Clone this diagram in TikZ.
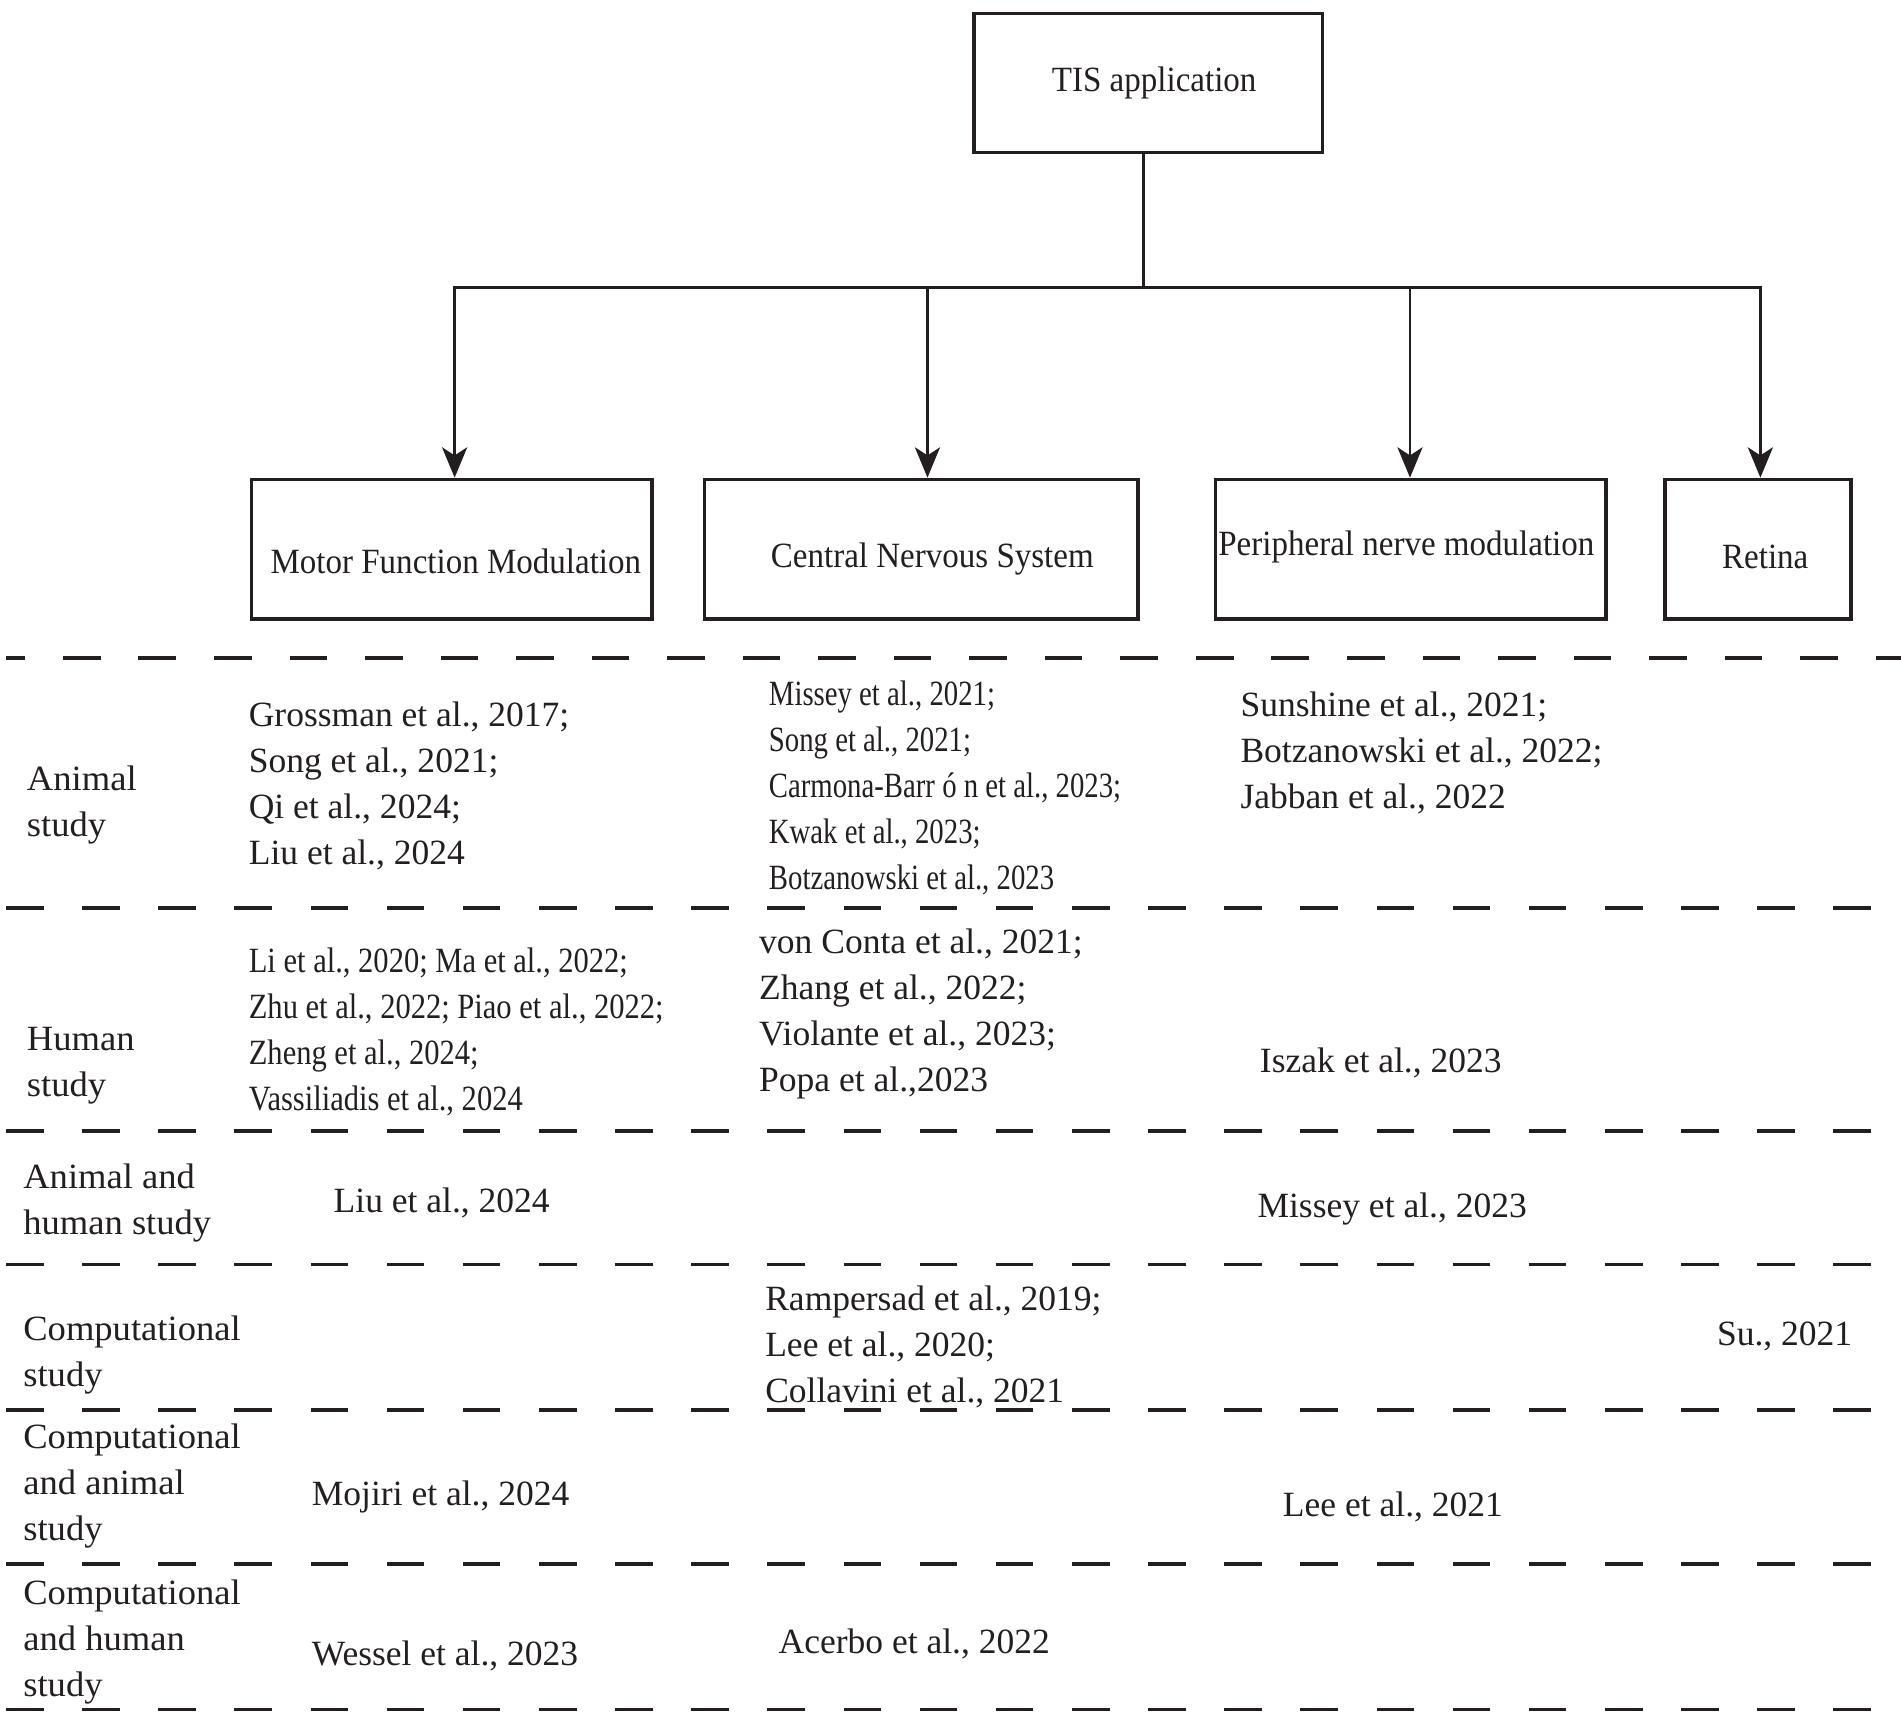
\documentclass[tikz,border=0pt]{standalone}
\usepackage{fontspec}
\setmainfont{Liberation Serif}
\newfontfamily\boxfont{Liberation Serif}[FakeStretch=0.93]
\newfontfamily\condA{Liberation Serif}[FakeStretch=0.81]
\newfontfamily\condB{Liberation Serif}[FakeStretch=0.86]
\newfontfamily\rowfont{Liberation Serif}[FakeStretch=1.03]
\usetikzlibrary{arrows.meta}
\definecolor{ink}{RGB}{35,31,32}
\begin{document}
\begin{tikzpicture}[x=0.03cm, y=-0.03cm,
  box/.style={draw=ink, line width=2.3pt, inner sep=0pt},
  lbl/.style={font=\boxfont\fontsize{25}{32.4}\selectfont, text=ink, inner sep=0pt},
  ref/.style={anchor=west, inner sep=0pt, align=left, text=ink, yshift=-0.06cm, font=\fontsize{25}{32.4}\selectfont},
  refA/.style={ref, font=\condA\fontsize{25}{32.4}\selectfont},
  refB/.style={ref, font=\condB\fontsize{25}{32.4}\selectfont},
  rowlbl/.style={ref, font=\rowfont\fontsize{25}{32.4}\selectfont},
  conn/.style={draw=ink, line width=2pt},
  arr/.style={conn, -{Stealth[length=0.75cm, width=0.62cm, inset=0.2cm]}},
  sepline/.style={draw=ink, line width=2.6pt, dash pattern=on 0.93cm off 0.954cm},
  sepfirst/.style={draw=ink, line width=2.6pt, dash pattern=on 0.93cm off 0.939cm, dash phase=0.462cm}
]
\useasboundingbox (0,0) rectangle (1568,1421);

% boxes
\node[box, minimum width=8.62cm, minimum height=3.43cm,
  label={[lbl, xshift=0.15cm, yshift=-0.01cm]center:TIS application}] (tis) at (947,68.5) {};
\node[box, minimum width=9.91cm, minimum height=3.46cm,
  label={[lbl, xshift=0.105cm, yshift=-0.31cm]center:Motor Function Modulation}] (mfm) at (372.5,453) {};
\node[box, minimum width=10.72cm, minimum height=3.46cm,
  label={[lbl, xshift=0.27cm, yshift=-0.24cm]center:Central Nervous System}] (cns) at (760,453) {};
\node[box, minimum width=9.67cm, minimum height=3.46cm,
  label={[lbl, xshift=-0.105cm, yshift=0.06cm]center:Peripheral nerve modulation}] (pnm) at (1163.5,453) {};
\node[box, minimum width=4.6cm, minimum height=3.46cm,
  label={[lbl, xshift=0.18cm, yshift=-0.18cm]center:Retina}] (ret) at (1450,453) {};

% connectors
\coordinate (top) at (943,237);
\coordinate (j1) at (375,237);
\coordinate (j2) at (765,237);
\coordinate (j3) at (1163,237);
\coordinate (j4) at (1452,237);
\draw[conn] (tis.south -| top) -- (top);
\draw[conn, line cap=rect] (j1) -- (j4);
\draw[arr] (j1) -- (j1 |- mfm.north);
\draw[arr] (j2) -- (j2 |- cns.north);
\draw[arr] (j3) -- (j3 |- pnm.north);
\draw[arr] (j4) -- (j4 |- ret.north);

% separators
\draw[sepfirst] (5,543) -- (1568,543);
\foreach \yy in {749,933,1043,1163,1290,1410}
  \draw[sepline] (5,\yy) -- (1546,\yy);

% row labels
\node[rowlbl] (r1) at (22,662) {Animal\\study};
\node[rowlbl] (r2) at (22,877) {Human\\study};
\node[rowlbl] (r3) at (19,990) {Animal and\\human study};
\node[rowlbl] (r4) at (19,1116) {Computational\\study};
\node[rowlbl] (r5) at (19,1224) {Computational\\and animal\\study};
\node[rowlbl] (r6) at (19,1352) {Computational\\and human\\study};

% animal study
\node[ref] (a1) at (205,646) {Grossman et al., 2017;\\Song et al., 2021;\\Qi et al., 2024;\\Liu et al., 2024};
\node[refA] (a2) at (634,648) {Missey et al., 2021;\\Song et al., 2021;\\Carmona-Barr ó n et al., 2023;\\Kwak et al., 2023;\\Botzanowski et al., 2023};
\node[ref] (a3) at (1023,619) {Sunshine et al., 2021;\\Botzanowski et al., 2022;\\Jabban et al., 2022};

% human study
\node[refB] (h1) at (205,849) {Li et al., 2020; Ma et al., 2022;\\Zhu et al., 2022; Piao et al., 2022;\\Zheng et al., 2024;\\Vassiliadis et al., 2024};
\node[ref] (h2) at (626,834) {von Conta et al., 2021;\\Zhang et al., 2022;\\Violante et al., 2023;\\Popa et al.,2023};
\node[ref] (h3) at (1039,875) {Iszak et al., 2023};

% animal and human
\node[ref] (ah1) at (275,990) {Liu et al., 2024};
\node[ref] (ah3) at (1037,995) {Missey et al., 2023};

% computational
\node[ref] (c2) at (631,1109) {Rampersad et al., 2019;\\Lee et al., 2020;\\Collavini et al., 2021};
\node[ref] (c4) at (1416,1100) {Su., 2021};

% computational and animal
\node[ref] (ca1) at (257,1233) {Mojiri et al., 2024};
\node[ref] (ca3) at (1058,1241) {Lee et al., 2021};

% computational and human
\node[ref] (ch1) at (257,1364) {Wessel et al., 2023};
\node[ref] (ch2) at (642,1354) {Acerbo et al., 2022};
\end{tikzpicture}
\end{document}
